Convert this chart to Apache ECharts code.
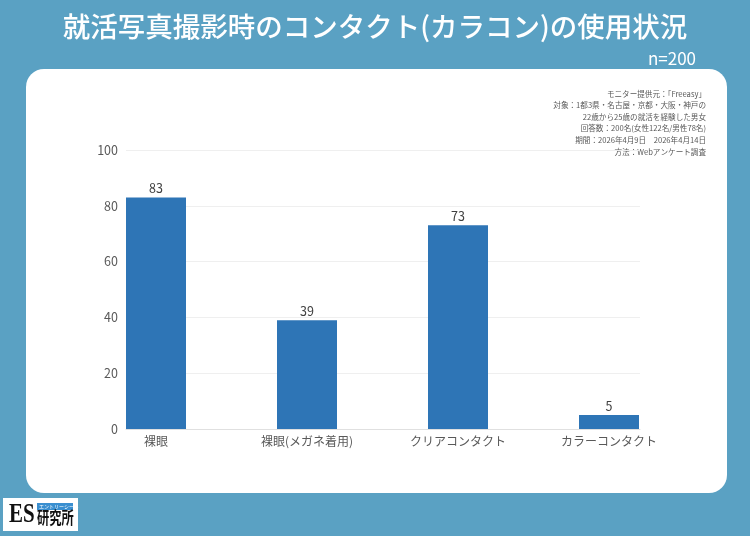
<!DOCTYPE html>
<html lang="ja">
<head>
<meta charset="UTF-8">
<title>就活写真撮影時のコンタクト(カラコン)の使用状況</title>
<script src="https://cdn.jsdelivr.net/npm/echarts@6/dist/echarts.min.js"></script>
<style>
  html, body { margin: 0; padding: 0; background: #5aa1c3; }
</style>
</head>
<body>
<div id="chart" style="width:750px;height:536px;"></div>
<script>
// データ
var categories = ['裸眼', '裸眼(メガネ着用)', 'クリアコンタクト', 'カラーコンタクト'];
var values = [83, 39, 73, 5];
var yTicks = { min: 0, max: 100, interval: 20 };
var noteLines = [
  'モニター提供元：「Freeasy」',
  '対象：1都3県・名古屋・京都・大阪・神戸の',
  '22歳から25歳の就活を経験した男女',
  '回答数：200名(女性122名/男性78名)',
  '期間：2026年4月9日　2026年4月14日',
  '方法：Webアンケート調査'
];

var FONT = '"Noto Sans CJK JP", "Noto Sans", sans-serif';
var chart = echarts.init(document.getElementById('chart'));

var option = {
  backgroundColor: '#5aa1c3',
  animation: false,
  textStyle: { fontFamily: FONT },
  title: [
    {
      text: '就活写真撮影時のコンタクト(カラコン)の使用状況',
      left: 'center', top: 8,
      textStyle: { color: '#fff', fontSize: 27.5, fontWeight: 500, fontFamily: FONT }
    },
    {
      text: 'n=200',
      right: 49, top: 45,
      textStyle: { color: '#fff', fontSize: 17, fontWeight: 'normal', fontFamily: FONT }
    }
  ],
  graphic: [
    {
      type: 'rect', z: -10,
      shape: { x: 26, y: 69, width: 701, height: 424, r: 18 },
      style: { fill: '#ffffff' }
    },
    {
      type: 'text', x: 706, y: 88,
      style: {
        text: noteLines.join('\n'),
        align: 'right', verticalAlign: 'top', fill: '#595959',
        font: '7.6px ' + FONT, lineHeight: 11.6
      }
    },
    // ロゴ
    {
      type: 'group', x: 3, y: 498,
      children: [
        { type: 'rect', shape: { x: 0, y: 0, width: 75, height: 33 }, style: { fill: '#ffffff' } },
        { type: 'text', x: 6, y: 3, scaleX: 0.75,
          style: { text: 'ES', fill: '#111', font: 'bold 28px "Liberation Serif", serif' } },
        { type: 'rect', shape: { x: 34, y: 5, width: 36, height: 7 }, style: { fill: '#3a8fd0' } },
        { type: 'text', x: 36, y: 5.5, style: { text: 'エントリーシート', fill: '#fff', font: '5px ' + FONT } },
        { type: 'text', x: 34, y: 11, scaleX: 0.72,
          style: { text: '研究所', fill: '#111', font: 'bold 17px ' + FONT } }
      ]
    }
  ],
  grid: [
    { left: 80.5, right: 65.5, top: 150, height: 279 },
    { left: 126, right: 110, top: 150, height: 279 }
  ],
  xAxis: [
    {
      type: 'category', gridIndex: 0, data: categories,
      axisLine: { show: false }, axisTick: { show: false },
      axisLabel: { color: '#595959', fontSize: 12, margin: 6, fontFamily: FONT }
    },
    {
      type: 'category', gridIndex: 1, data: categories,
      axisLine: { show: true, lineStyle: { color: '#e0e0e0' } },
      axisTick: { show: false }, axisLabel: { show: false }
    }
  ],
  yAxis: [
    {
      type: 'value', gridIndex: 0, min: yTicks.min, max: yTicks.max, interval: yTicks.interval,
      show: false, splitLine: { show: false }
    },
    {
      type: 'value', gridIndex: 1, min: yTicks.min, max: yTicks.max, interval: yTicks.interval,
      axisLine: { show: false }, axisTick: { show: false },
      axisLabel: { color: '#595959', fontSize: 12.5, margin: 8, fontFamily: FONT },
      splitLine: { lineStyle: { color: '#efefef' } }
    }
  ],
  series: [
    {
      type: 'bar', xAxisIndex: 0, yAxisIndex: 0,
      data: values, barWidth: 60,
      itemStyle: { color: '#2e75b6' },
      label: { show: true, position: 'top', distance: 3, color: '#404040', fontSize: 12.5, fontFamily: FONT }
    }
  ]
};

chart.setOption(option);
</script>
</body>
</html>
